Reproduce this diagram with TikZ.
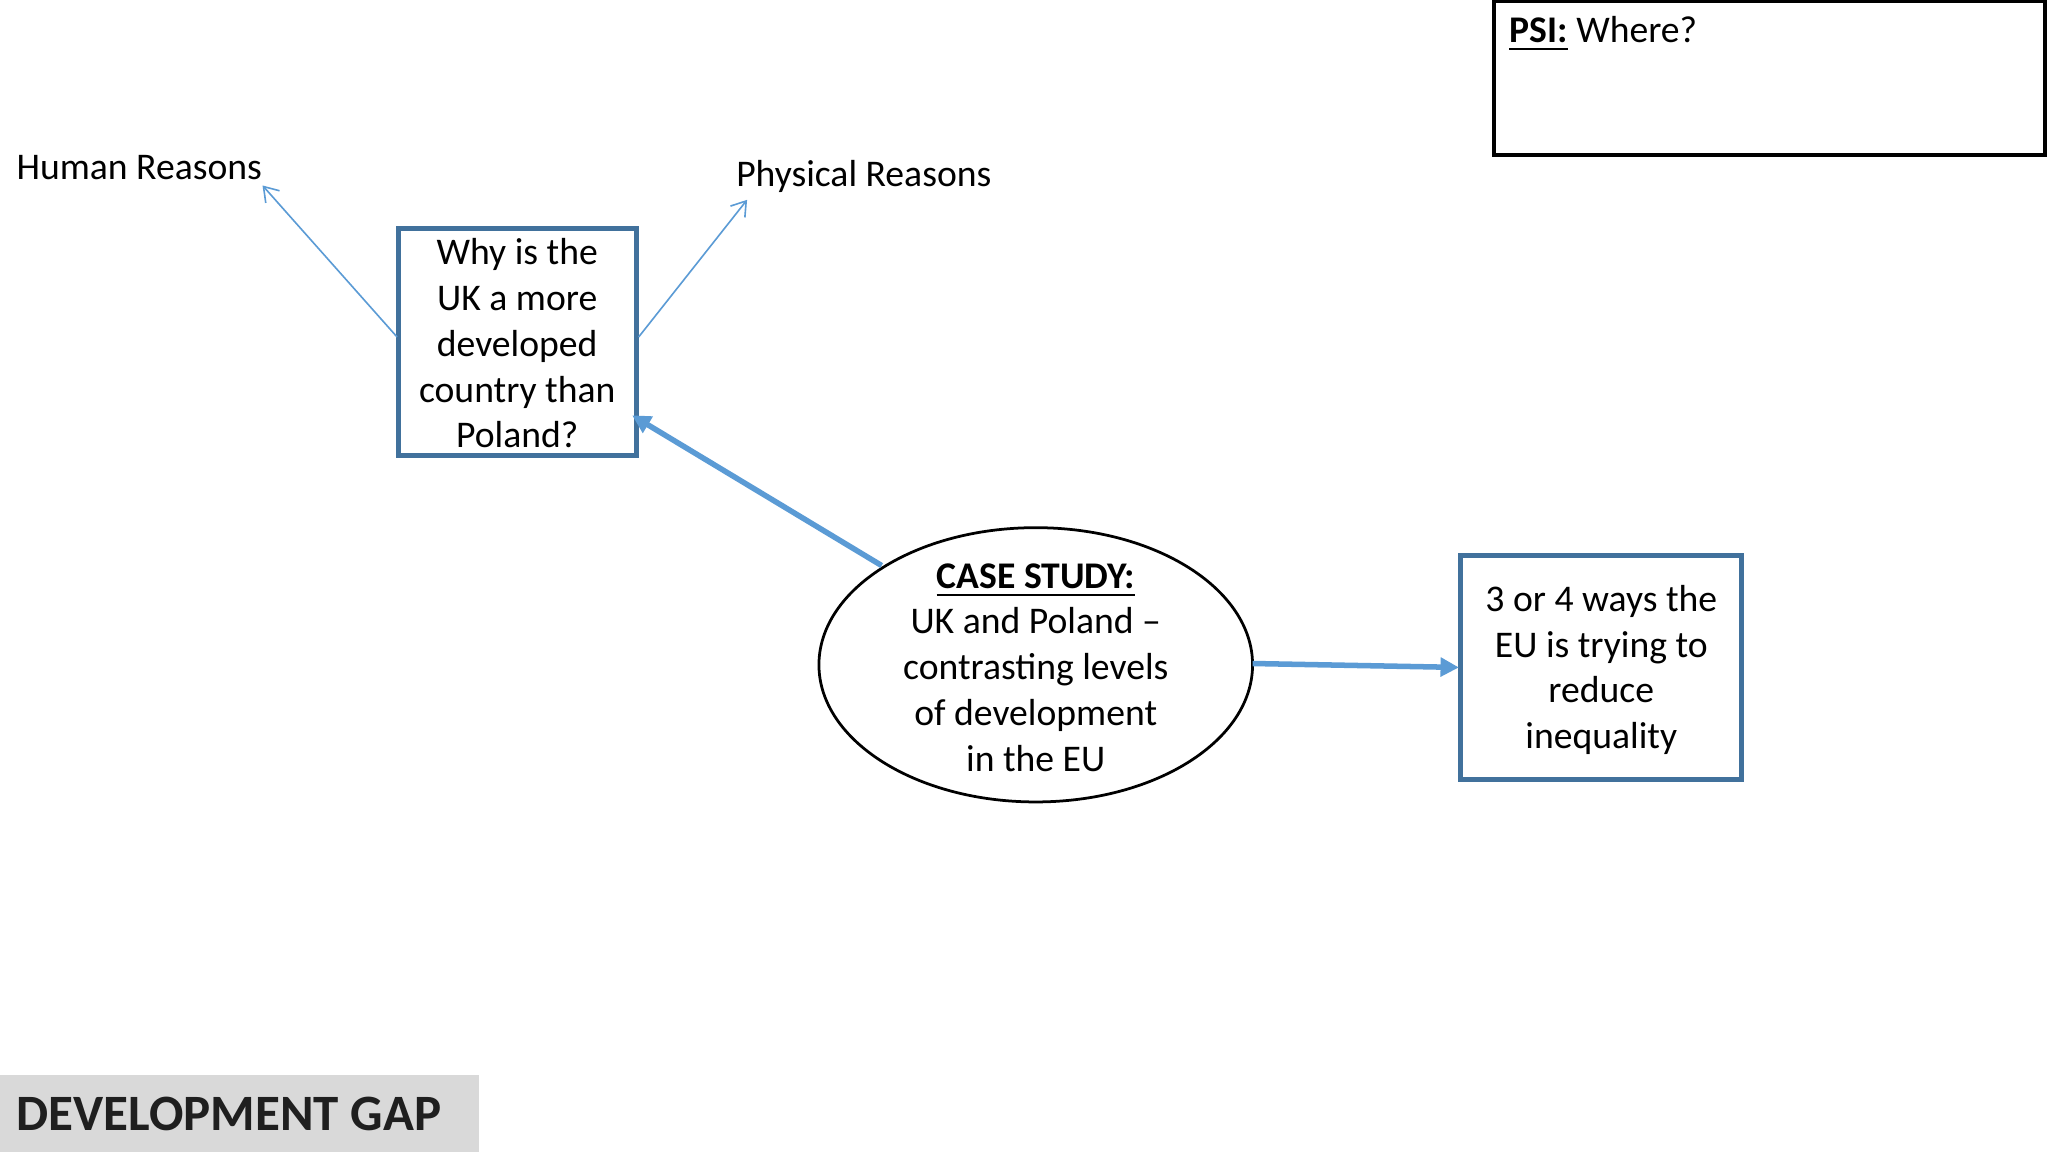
\documentclass[tikz,border=0pt]{standalone}
\usepackage{fontspec}
\setmainfont{Carlito}
\usetikzlibrary{arrows.meta,shapes.geometric}
\definecolor{bbox}{HTML}{41719C}
\definecolor{barr}{HTML}{5B9BD5}
\begin{document}
\begin{tikzpicture}[x=0.01cm,y=-0.01cm,
  txt/.style={font=\fontsize{8.2}{9.96}\selectfont,align=center,inner sep=0},
  bluebox/.style={draw=bbox,line width=1.1pt},
  thin/.style={draw=barr,line width=0.35pt,-{Straight Barb[length=3pt,width=4pt]}},
  thick/.style={draw=barr,line width=1.2pt,-{Triangle[length=4pt,width=4pt]}}]
\useasboundingbox (0,0) rectangle (1568,882);
\fill[white] (0,0) rectangle (1568,882);
% PSI box
\draw[line width=0.9pt] (1144,1) rectangle (1566,119);
\node[txt,anchor=west] (psi) at (1155,26) {\textbf{\underline{PSI:}} Where?};
% labels
\node[txt,anchor=west] (human) at (12,128) {Human Reasons};
\node[txt,anchor=west] (phys) at (563,135) {Physical Reasons};
% question box
\draw[bluebox] (305,175) rectangle (487,349);
\node[txt] (q) at (396,263) {Why is the\\UK a more\\developed\\country than\\Poland?};
\coordinate (qL) at (304,258);
\coordinate (qR) at (489,258);
\coordinate (qB) at (484,318);
\coordinate (hEnd) at (201,142);
\coordinate (pEnd) at (572,153);
\draw[thin] (qL) -- (hEnd);
\draw[thin] (qR) -- (pEnd);
% ellipse
\node[draw,ellipse,line width=0.6pt,minimum width=0.01cm*332,minimum height=0.01cm*210,inner sep=0] (cs) at (793,509) {};
\node[txt] (cst) at (793,511) {\textbf{\underline{CASE STUDY:}}\\UK and Poland –\\contrasting levels\\of development\\in the EU};
\coordinate (csA) at (675,433);
\coordinate (csB) at (959,508);
\draw[thick] (csA) -- (qB);
% right box
\draw[bluebox] (1118,425) rectangle (1333,597);
\node[txt] (eu) at (1226,513) {3 or 4 ways the\\EU is trying to\\reduce\\inequality};
\coordinate (euL) at (1117,511);
\draw[thick] (csB) -- (euL);
% bottom label
\fill[black!15] (0,823) rectangle (367,882);
\node[anchor=west,inner sep=0,font=\fontsize{11.1}{13}\selectfont\bfseries,text=black!88] (dg) at (12,853) {DEVELOPMENT GAP};
\end{tikzpicture}
\end{document}
